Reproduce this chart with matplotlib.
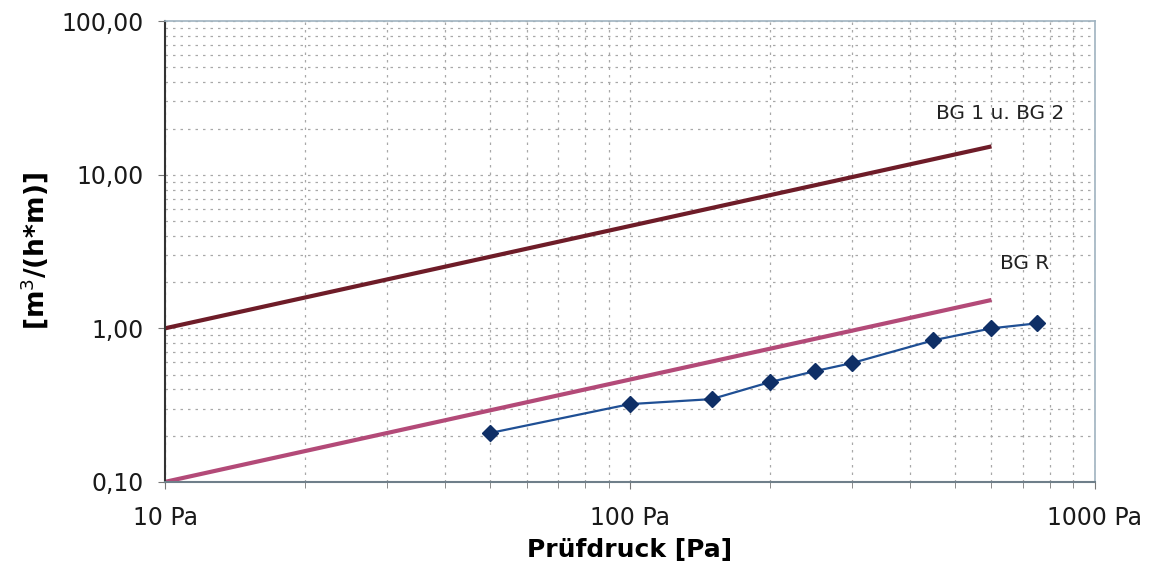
import matplotlib
matplotlib.use("Agg")
import matplotlib.pyplot as plt
from matplotlib.ticker import FixedLocator, FuncFormatter, LogLocator, NullFormatter

# measured air leakage
pressure = [50, 100, 150, 200, 250, 300, 450, 600, 750]
flow = [0.208, 0.321, 0.346, 0.446, 0.526, 0.593, 0.836, 1.0, 1.077]

# class limit lines
bg12_x = [10, 600]
bg12_y = [1.0, 15.3]
bgr_x = [10, 600]
bgr_y = [0.1, 1.53]

x_ticks = [10, 100, 1000]
y_ticks = [0.1, 1, 10, 100]

fig = plt.figure(figsize=(11.62, 5.73), dpi=100)
ax = fig.add_axes([0.142, 0.159, 0.800, 0.804])
ax.set_xscale("log")
ax.set_yscale("log")
ax.set_xlim(10, 1000)
ax.set_ylim(0.1, 100)

grid = dict(color="#a8a8a8", linestyle=(0, (2, 4)), linewidth=0.9)
ax.grid(True, which="both", axis="both", **grid)
ax.set_axisbelow(True)

ax.plot(bg12_x, bg12_y, color="#6e1c28", linewidth=3, solid_capstyle="butt")
ax.plot(bgr_x, bgr_y, color="#b34a78", linewidth=3, solid_capstyle="butt")
ax.plot(pressure, flow, color="#1f4f94", linewidth=1.6, marker="D",
        markersize=8, markerfacecolor="#0f2f66", markeredgecolor="#0f2f66")

ax.text(625, 24.9, "BG 1 u. BG 2", fontsize=14.5,
        ha="center", va="center", color="#222222")
ax.text(707, 2.64, "BG R", fontsize=14.5,
        ha="center", va="center", color="#222222")

ax.xaxis.set_major_locator(FixedLocator(x_ticks))
ax.xaxis.set_minor_locator(LogLocator(base=10, subs=range(2, 10)))
ax.xaxis.set_minor_formatter(NullFormatter())
ax.xaxis.set_major_formatter(FuncFormatter(lambda v, p: f"{int(round(v))} Pa"))
ax.yaxis.set_major_locator(FixedLocator(y_ticks))
ax.yaxis.set_minor_locator(LogLocator(base=10, subs=range(2, 10)))
ax.yaxis.set_minor_formatter(NullFormatter())
ax.yaxis.set_major_formatter(FuncFormatter(lambda v, p: f"{v:.2f}".replace(".", ",")))

ax.tick_params(axis="both", which="major", labelsize=17, length=5, color="#777777",
               labelcolor="#1a1a1a")
ax.tick_params(axis="x", which="major", pad=12)
ax.tick_params(axis="y", which="major", pad=10)
ax.tick_params(axis="x", which="minor", length=4, color="#777777")
ax.tick_params(axis="y", which="minor", length=0)

ax.spines["left"].set_color("#333333")
ax.spines["left"].set_linewidth(1.5)
ax.spines["bottom"].set_color("#6f7f8a")
ax.spines["bottom"].set_linewidth(1.5)
ax.spines["top"].set_color("#9fb3c0")
ax.spines["right"].set_color("#9fb3c0")
ax.spines["top"].set_linewidth(1.2)
ax.spines["right"].set_linewidth(1.2)

ax.set_xlabel("Prüfdruck [Pa]", fontsize=18, fontweight="bold", labelpad=6)
ax.set_ylabel("[m$^3$/(h*m)]", fontsize=19, fontweight="bold", labelpad=8)

fig.savefig("out.png", dpi=100)
